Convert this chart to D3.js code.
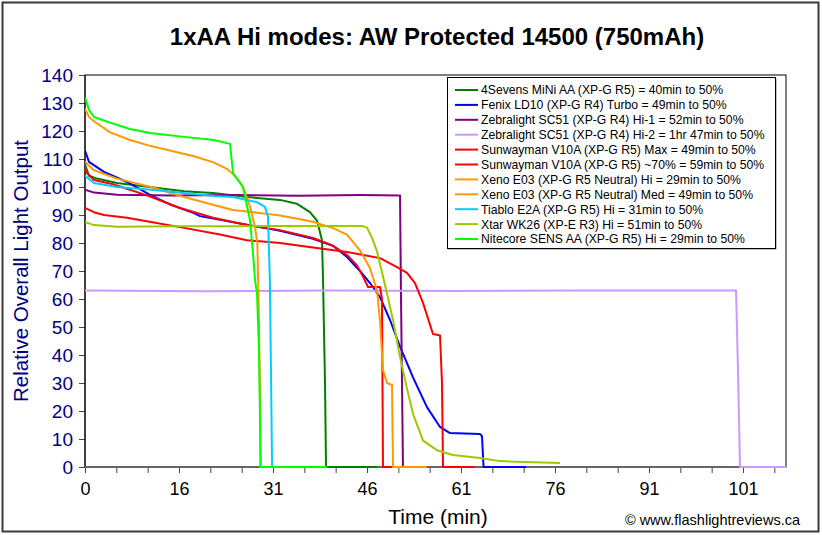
<!DOCTYPE html>
<html>
<head>
<meta charset="utf-8">
<script src="https://cdn.jsdelivr.net/npm/d3@7"></script>
<style>
  html, body { margin: 0; padding: 0; background: #fff; }
  svg { display: block; font-family: "Liberation Sans", Arial, sans-serif; }
</style>
</head>
<body>
<svg id="chart" width="822" height="535"></svg>
<script>
// ---------------- DATA ----------------
const title = "1xAA Hi modes: AW Protected 14500 (750mAh)";
const xTitle = "Time (min)";
const yTitle = "Relative Overall Light Output";
const credit = "\u00A9 www.flashlightreviews.ca";

const xTickLabels = [0, 16, 31, 46, 61, 76, 91, 101];
const yTicks = [0, 10, 20, 30, 40, 50, 60, 70, 80, 90, 100, 110, 120, 130, 140];

const seriesNames = [
  "4Sevens MiNi AA (XP-G R5) = 40min to 50%",
  "Fenix LD10 (XP-G R4) Turbo = 49min to 50%",
  "Zebralight SC51 (XP-G R4) Hi-1 = 52min to 50%",
  "Zebralight SC51 (XP-G R4) Hi-2 = 1hr 47min to 50%",
  "Sunwayman V10A (XP-G R5) Max = 49min to 50%",
  "Sunwayman V10A (XP-G R5) ~70% = 59min to 50%",
  "Xeno E03 (XP-G R5 Neutral) Hi = 29min to 50%",
  "Xeno E03 (XP-G R5 Neutral) Med = 49min to 50%",
  "Tiablo E2A (XP-G R5) Hi = 31min to 50%",
  "Xtar WK26 (XP-E R3) Hi = 51min to 50%",
  "Nitecore SENS AA (XP-G R5) Hi = 29min to 50%"
];
const seriesColors = ["#008000", "#0000FF", "#800080", "#CC99FF", "#FF0000", "#FF0000",
                      "#FF9900", "#FF9900", "#00CCFF", "#99CC00", "#00FF00"];

// [time (min), relative output]
const foursevens = [[0,108],[0.68,104],[2.04,103],[5.45,101.4],[11,100],[16.8,98.5],[21.43,97.9],
  [26.85,96.4],[32.12,95.4],[34.83,94],[36.9,91],[38.02,88],[38.82,81],[38.98,67],[39.3,30],[39.46,0],[47.6,0]];
const fenix = [[0,113],[0.68,109],[3.23,105.4],[7.15,101.8],[11.23,97],[14.64,93.6],[18.39,90.7],
  [19.35,89.6],[26.85,86.5],[32.12,84.4],[37.38,81.5],[40.57,79],[42.81,75],[44.88,70],[46.48,65.7],
  [48.07,60.7],[49.67,52.5],[51.27,43],[53.34,32],[55.57,21.4],[57.65,14.3],[59.24,12.1],[64.03,11.8],
  [64.35,11],[64.6,0],[71.4,0]];
const zlHi1 = [[0,99],[1.53,98],[5.45,97.2],[15,97],[25,97.1],[35,96.9],[45,97.1],[51.27,97],[51.43,60],[51.74,0],[52.2,0]];
const zlHi2 = [[0,63],[20,62.8],[40,63],[60,62.9],[80,63],[100.26,63],[100.5,30],[100.68,0],[105.57,0]];
const swMax = [[0,107],[0.34,105],[1.53,102.5],[4.77,101],[10.55,97],[16.16,92.5],[21.43,89],[26.85,86.4],
  [32.12,84.6],[37.38,81.8],[40.57,79],[42.81,75.7],[44.4,72],[45.36,68],[46.16,64.3],[48.07,64.3],
  [48.39,60],[48.55,0],[50,0]];
const sw70 = [[0,92.5],[1.53,91],[3.23,90],[7.15,89],[11.23,87.5],[16.8,85.4],[22.54,83],[26.85,81],
  [32.12,80],[37.38,78.4],[42.81,76.8],[48.07,74.6],[50.79,71.4],[52.38,69.3],[53.66,65.7],[54.94,58.6],
  [56.53,47.5],[57.65,47],[57.97,30],[58.13,0],[63.2,0]];
const xenoHi = [[0,128],[0.68,125],[1.53,123.5],[4.26,119.5],[7.66,116.8],[11.06,114.7],[15.3,112.6],
  [18.4,111],[21.5,108.8],[23.66,106.5],[24.6,104.6],[25.7,101.8],[26.2,100],[27.33,93],[28.13,85.7],
  [28.5,80],[28.7,60],[28.9,30],[29.0,0],[30,0]];
const xenoMed = [[0,109],[1.53,106],[5.45,103],[11.23,100],[16.8,96.4],[21.58,93.6],[24.62,91.8],
  [30.04,90.4],[32.12,89.8],[35.31,88.5],[37.38,87.6],[40.57,85.3],[42.81,83],[45.0,77],[46.48,71],
  [47.6,63],[48.07,52.5],[48.55,34.6],[49.19,30],[49.99,29.3],[50.15,0],[55.5,0]];
const tiablo = [[0,104],[1.53,101.4],[5.45,100],[11.23,99],[16.8,97.9],[21.58,96.8],[24.62,96.4],
  [28.45,94.6],[29.72,92.9],[30.2,89.3],[30.5,66.8],[30.7,30],[30.85,0],[31.5,0]];
const xtar = [[0,87.5],[1.53,86.4],[5.45,85.8],[15,86],[25,86],[35,86.1],[45.2,86.1],[46.0,85.5],
  [46.8,81.8],[47.6,77],[48.55,68],[49.19,62],[50.15,52.5],[51.27,39.3],[52.38,28],[53.34,19],
  [54.94,9.4],[57.17,6],[59.72,4.3],[64.03,3.2],[67.22,2.1],[76.8,1.4]];
const nitecore = [[0,132],[0.68,127.5],[1.53,125],[4.26,123],[7.66,120.7],[11.06,119.3],[16.8,117.9],
  [21.58,116.8],[24.14,115.4],[24.62,105],[26.21,100],[27.33,88.2],[27.81,76.4],[28.13,66.8],[28.45,62],
  [28.77,41.8],[29.04,0],[39.6,0]];

const seriesData = [foursevens, fenix, zlHi1, zlHi2, swMax, sw70, xenoHi, xenoMed, tiablo, xtar, nitecore];

// ---------------- LAYOUT ----------------
const svg = d3.select("#chart");
const plot = { left: 85, top: 75, right: 786, bottom: 467 };
const labelStep = 94;

// outer chart border
svg.append("rect").attr("x", 2.5).attr("y", 2.5).attr("width", 816).attr("height", 529)
  .attr("fill", "#fff").attr("stroke", "#3a3a3a").attr("stroke-width", 2);

// scales
const x = d3.scaleLinear()
  .domain(xTickLabels)
  .range(xTickLabels.map((d, i) => plot.left + i * labelStep));
const y = d3.scaleLinear().domain([0, 140]).range([plot.bottom, plot.top]);

// plot area
svg.append("rect").attr("x", plot.left).attr("y", plot.top)
  .attr("width", plot.right - plot.left).attr("height", plot.bottom - plot.top)
  .attr("fill", "#fff").attr("stroke", "#000").attr("stroke-width", 1);

// x ticks: thirds between labeled ticks
const xTickVals = [];
for (let i = 0; i < xTickLabels.length - 1; i++) {
  const a = xTickLabels[i], b = xTickLabels[i + 1];
  xTickVals.push(a, a + (b - a) / 3, a + 2 * (b - a) / 3);
}
xTickVals.push(xTickLabels[xTickLabels.length - 1]);
xTickVals.push(x.invert(x(xTickLabels[xTickLabels.length - 1]) + labelStep / 3));

const xAxis = svg.append("g").attr("transform", `translate(0,${plot.bottom})`)
  .call(d3.axisBottom(x).tickValues(xTickVals).tickSize(6).tickSizeOuter(0)
    .tickFormat(d => xTickLabels.includes(d) ? d : ""));
xAxis.select(".domain").remove();
xAxis.selectAll(".tick line").attr("stroke", "#444").attr("stroke-width", 1);
xAxis.selectAll(".tick text").attr("font-size", 18).attr("fill", "#000").attr("dy", "1.05em")
  .attr("font-family", "'Liberation Sans', Arial, sans-serif");

const yAxis = svg.append("g").attr("transform", `translate(${plot.left},0)`)
  .call(d3.axisLeft(y).tickValues(yTicks).tickSize(6).tickSizeOuter(0).tickPadding(6));
yAxis.select(".domain").remove();
yAxis.selectAll(".tick line").attr("stroke", "#444");
yAxis.selectAll(".tick text").attr("font-size", 19).attr("fill", "#000080")
  .attr("font-family", "'Liberation Sans', Arial, sans-serif");

// axis lines
svg.append("line").attr("x1", plot.left).attr("x2", plot.left).attr("y1", plot.top).attr("y2", plot.bottom)
  .attr("stroke", "#000").attr("stroke-width", 1);

// series lines
const line = d3.line().x(d => x(d[0])).y(d => y(d[1]));
svg.append("clipPath").attr("id", "clip").append("rect")
  .attr("x", plot.left).attr("y", plot.top - 2).attr("width", plot.right - plot.left).attr("height", plot.bottom - plot.top + 3);

svg.append("line").attr("x1", plot.left).attr("x2", plot.right).attr("y1", plot.bottom).attr("y2", plot.bottom)
  .attr("stroke", "#666").attr("stroke-width", 2);

svg.append("g").attr("clip-path", "url(#clip)")
  .selectAll("path").data(seriesData).join("path")
  .attr("d", line)
  .attr("fill", "none")
  .attr("stroke", (d, i) => seriesColors[i])
  .attr("stroke-width", 2)
  .attr("stroke-linejoin", "round");

// legend
const lg = { x: 447, y: 77, w: 328, h: 171, row: 14.9, first: 90 };
svg.append("rect").attr("x", lg.x + 1.5).attr("y", lg.y + 1.5).attr("width", lg.w).attr("height", lg.h)
  .attr("fill", "#888");
svg.append("rect").attr("x", lg.x + 0.5).attr("y", lg.y + 0.5).attr("width", lg.w).attr("height", lg.h)
  .attr("fill", "#fff").attr("stroke", "#000").attr("stroke-width", 1);
const items = svg.append("g").selectAll("g").data(seriesNames).join("g")
  .attr("transform", (d, i) => `translate(0,${lg.first + i * lg.row})`);
items.append("line").attr("x1", 455).attr("x2", 478).attr("y1", 0).attr("y2", 0)
  .attr("stroke", (d, i) => seriesColors[i]).attr("stroke-width", 2);
items.append("text").attr("x", 481).attr("y", 0).attr("dy", "0.36em")
  .attr("font-size", 12.2).attr("fill", "#000").text(d => d);

// titles
svg.append("text").attr("x", 437).attr("y", 45).attr("text-anchor", "middle")
  .attr("font-size", 24).attr("font-weight", "bold").attr("fill", "#000").text(title);
svg.append("text").attr("x", 438).attr("y", 524).attr("text-anchor", "middle")
  .attr("font-size", 21).attr("fill", "#000").text(xTitle);
svg.append("text").attr("transform", "translate(28,271) rotate(-90)").attr("text-anchor", "middle")
  .attr("font-size", 20.5).attr("fill", "#000080").text(yTitle);
svg.append("text").attr("x", 800).attr("y", 525).attr("text-anchor", "end")
  .attr("font-size", 14.5).attr("fill", "#000").text(credit);
</script>
</body>
</html>
